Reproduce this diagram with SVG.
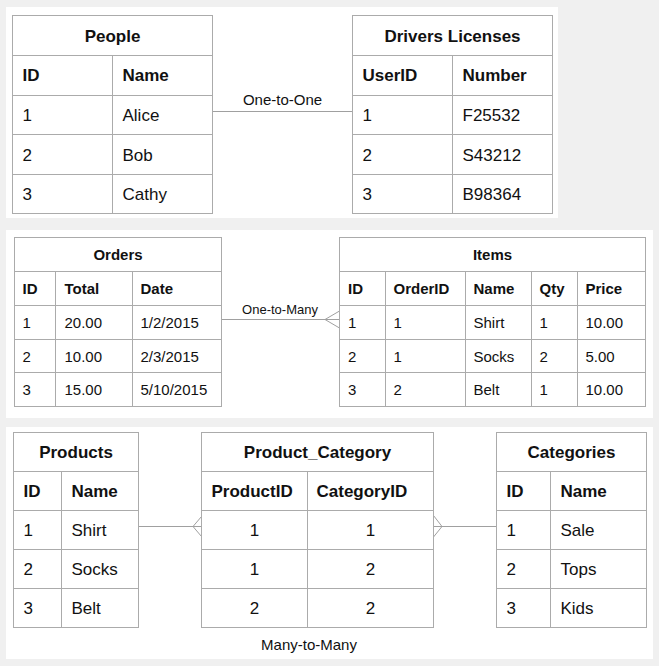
<svg xmlns="http://www.w3.org/2000/svg" width="659" height="666" viewBox="0 0 659 666">
<style>
text{font-family:"Liberation Sans",Arial,sans-serif;fill:#111}
.g{fill:#fff;stroke:#ababab;stroke-width:1}
.l{stroke:#ababab;stroke-width:1;fill:none}
.c{stroke:#a0a0a0;stroke-width:1;fill:none}
.b17{font-size:17px;font-weight:bold}
.r17{font-size:17px}
.b15{font-size:15px;font-weight:bold}
.r15{font-size:15px}
.lab15{font-size:15px}
.lab13{font-size:13px}
.m{text-anchor:middle}
</style>
<rect x="0" y="0" width="659" height="666" fill="#f0f0f0"/>
<rect x="6" y="7" width="552" height="211" fill="#fff"/>
<rect x="6" y="230" width="647" height="188" fill="#fff"/>
<rect x="6" y="427" width="647" height="232" fill="#fff"/>

<g id="connectors">
  <line class="c" x1="212.5" y1="111.5" x2="352.5" y2="111.5"/>
  <text class="lab15 m" x="282.5" y="105">One-to-One</text>
  <line class="c" x1="221.5" y1="319.5" x2="339.5" y2="319.5"/>
  <polyline class="c" points="339.5,311 325,319.5 339.5,328"/>
  <text class="lab13 m" x="280" y="314">One-to-Many</text>
  <line class="c" x1="138.5" y1="526.5" x2="201.5" y2="526.5"/>
  <polyline class="c" points="201.5,516.5 193,526.5 201.5,536.5"/>
  <line class="c" x1="433.5" y1="526.5" x2="496.5" y2="526.5"/>
  <polyline class="c" points="433.5,515.5 442,526.5 433.5,537"/>
  <text class="lab15 m" x="309" y="650">Many-to-Many</text>
</g>

<g id="people">
  <rect class="g" x="12.5" y="15.5" width="200" height="198"/>
  <path class="l" d="M12.5 55.5H212.5M12.5 95.5H212.5M12.5 134.5H212.5M12.5 174.5H212.5M112.5 55.5V213.5"/>
  <text class="b17 m" x="112.5" y="41.5">People</text>
  <text class="b17" x="22.5" y="81">ID</text>
  <text class="b17" x="122.5" y="81">Name</text>
  <text class="r17" x="22.5" y="121">1</text><text class="r17" x="122.5" y="121">Alice</text>
  <text class="r17" x="22.5" y="160.5">2</text><text class="r17" x="122.5" y="160.5">Bob</text>
  <text class="r17" x="22.5" y="200">3</text><text class="r17" x="122.5" y="200">Cathy</text>
</g>

<g id="drivers-licenses">
  <rect class="g" x="352.5" y="15.5" width="200" height="198"/>
  <path class="l" d="M352.5 55.5H552.5M352.5 95.5H552.5M352.5 134.5H552.5M352.5 174.5H552.5M452.5 55.5V213.5"/>
  <text class="b17 m" x="452.5" y="41.5">Drivers Licenses</text>
  <text class="b17" x="362.5" y="81">UserID</text>
  <text class="b17" x="462.5" y="81">Number</text>
  <text class="r17" x="362.5" y="121">1</text><text class="r17" x="462.5" y="121">F25532</text>
  <text class="r17" x="362.5" y="160.5">2</text><text class="r17" x="462.5" y="160.5">S43212</text>
  <text class="r17" x="362.5" y="200">3</text><text class="r17" x="462.5" y="200">B98364</text>
</g>

<g id="orders">
  <rect class="g" x="14.5" y="237.5" width="207" height="169"/>
  <path class="l" d="M14.5 271.5H221.5M14.5 305.5H221.5M14.5 339.5H221.5M14.5 372.5H221.5M55.5 271.5V406.5M132.5 271.5V406.5"/>
  <text class="b15 m" x="118" y="260">Orders</text>
  <text class="b15" x="22.5" y="294">ID</text>
  <text class="b15" x="64.5" y="294">Total</text>
  <text class="b15" x="140.5" y="294">Date</text>
  <text class="r15" x="22.5" y="328">1</text><text class="r15" x="64.5" y="328">20.00</text><text class="r15" x="140.5" y="328">1/2/2015</text>
  <text class="r15" x="22.5" y="361.5">2</text><text class="r15" x="64.5" y="361.5">10.00</text><text class="r15" x="140.5" y="361.5">2/3/2015</text>
  <text class="r15" x="22.5" y="395">3</text><text class="r15" x="64.5" y="395">15.00</text><text class="r15" x="140.5" y="395">5/10/2015</text>
</g>

<g id="items">
  <rect class="g" x="339.5" y="237.5" width="306" height="169"/>
  <path class="l" d="M339.5 271.5H645.5M339.5 305.5H645.5M339.5 339.5H645.5M339.5 372.5H645.5M385.5 271.5V406.5M465.5 271.5V406.5M531.5 271.5V406.5M577.5 271.5V406.5"/>
  <text class="b15 m" x="492.5" y="260">Items</text>
  <text class="b15" x="348" y="294">ID</text>
  <text class="b15" x="393.5" y="294">OrderID</text>
  <text class="b15" x="473.5" y="294">Name</text>
  <text class="b15" x="539.5" y="294">Qty</text>
  <text class="b15" x="585.5" y="294">Price</text>
  <text class="r15" x="348" y="328">1</text><text class="r15" x="393.5" y="328">1</text><text class="r15" x="473.5" y="328">Shirt</text><text class="r15" x="539.5" y="328">1</text><text class="r15" x="585.5" y="328">10.00</text>
  <text class="r15" x="348" y="361.5">2</text><text class="r15" x="393.5" y="361.5">1</text><text class="r15" x="473.5" y="361.5">Socks</text><text class="r15" x="539.5" y="361.5">2</text><text class="r15" x="585.5" y="361.5">5.00</text>
  <text class="r15" x="348" y="395">3</text><text class="r15" x="393.5" y="395">2</text><text class="r15" x="473.5" y="395">Belt</text><text class="r15" x="539.5" y="395">1</text><text class="r15" x="585.5" y="395">10.00</text>
</g>

<g id="products">
  <rect class="g" x="13.5" y="432.5" width="125" height="195"/>
  <path class="l" d="M13.5 471.5H138.5M13.5 510.5H138.5M13.5 549.5H138.5M13.5 588.5H138.5M61.5 471.5V627.5"/>
  <text class="b17 m" x="76" y="458">Products</text>
  <text class="b17" x="23.5" y="497">ID</text>
  <text class="b17" x="71.5" y="497">Name</text>
  <text class="r17" x="23.5" y="536">1</text><text class="r17" x="71.5" y="536">Shirt</text>
  <text class="r17" x="23.5" y="575">2</text><text class="r17" x="71.5" y="575">Socks</text>
  <text class="r17" x="23.5" y="614">3</text><text class="r17" x="71.5" y="614">Belt</text>
</g>

<g id="product-category">
  <rect class="g" x="201.5" y="432.5" width="232" height="195"/>
  <path class="l" d="M201.5 471.5H433.5M201.5 510.5H433.5M201.5 549.5H433.5M201.5 588.5H433.5M307.5 471.5V627.5"/>
  <text class="b17 m" x="317.5" y="458">Product_Category</text>
  <text class="b17" x="211.5" y="497">ProductID</text>
  <text class="b17" x="316.5" y="497">CategoryID</text>
  <text class="r17 m" x="254.5" y="536">1</text><text class="r17 m" x="370.5" y="536">1</text>
  <text class="r17 m" x="254.5" y="575">1</text><text class="r17 m" x="370.5" y="575">2</text>
  <text class="r17 m" x="254.5" y="614">2</text><text class="r17 m" x="370.5" y="614">2</text>
</g>

<g id="categories">
  <rect class="g" x="496.5" y="432.5" width="150" height="195"/>
  <path class="l" d="M496.5 471.5H646.5M496.5 510.5H646.5M496.5 549.5H646.5M496.5 588.5H646.5M550.5 471.5V627.5"/>
  <text class="b17 m" x="571.5" y="458">Categories</text>
  <text class="b17" x="506.5" y="497">ID</text>
  <text class="b17" x="560.5" y="497">Name</text>
  <text class="r17" x="506.5" y="536">1</text><text class="r17" x="560.5" y="536">Sale</text>
  <text class="r17" x="506.5" y="575">2</text><text class="r17" x="560.5" y="575">Tops</text>
  <text class="r17" x="506.5" y="614">3</text><text class="r17" x="560.5" y="614">Kids</text>
</g>
</svg>
